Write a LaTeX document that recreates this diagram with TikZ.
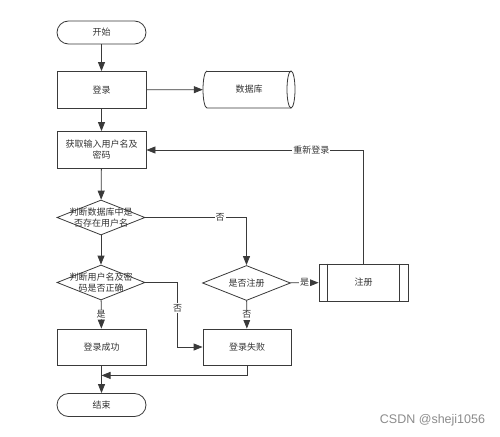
\documentclass[tikz,border=0pt]{standalone}
\usepackage{fontspec}
\newfontfamily\cjk{Noto Sans CJK SC}
\setsansfont{Liberation Sans}
\usetikzlibrary{shapes.geometric,arrows.meta,calc}
\definecolor{linec}{HTML}{3A3A3A}
\definecolor{txtc}{HTML}{333333}
\begin{document}
\begin{tikzpicture}[x=1pt,y=-1pt,
  every node/.style={text=txtc},
  ln/.style={draw=linec, line width=0.8pt},
  arr/.style={ln, -{Triangle[length=9pt,width=7pt]}},
  cn/.style={font=\cjk\fontsize{9}{11}\selectfont, align=center, inner sep=0pt},
  box/.style={ln, fill=white, minimum width=89pt, minimum height=37pt, cn},
  term/.style={box, rounded corners=11.5pt, minimum height=23pt},
  dec/.style={ln, diamond, fill=white, minimum width=88pt, minimum height=35pt, inner sep=0pt, aspect=2.5},
  lab/.style={cn, fill=white, inner sep=1pt}]
\useasboundingbox (0,0) rectangle (500,436);
\fill[white] (0,0) rectangle (500,436);

% nodes
\node[term] (start) at (101.5,32.5) {开始};
\node[box] (login) at (101.5,90) {登录};
\node[cn, minimum width=92pt, minimum height=37pt] (db) at (249,89.5) {数据库};
\draw[ln] (207,71) arc[start angle=90, end angle=270, x radius=4pt, y radius=18.5pt]
  -- (291,108);
\draw[ln] (207,71) -- (291,71);
\draw[ln] (291,89.5) ellipse[x radius=4pt, y radius=18.5pt];
\node[box] (get) at (101.5,150) {获取输入用户名及\\密码};
\node[dec] (d1) at (101,217.5) {};
\node[cn] at (d1) {判断数据库中是\\否存在用户名};
\node[dec] (d3) at (101,282.5) {};
\node[cn] at (d3) {判断用户名及密\\码是否正确};
\node[dec] (d2) at (246.5,283) {};
\node[cn] at (d2) {是否注册};
\node[box] (reg) at (363.5,282.5) {注册};
\draw[ln] ([xshift=9pt]reg.north west) -- ([xshift=9pt]reg.south west);
\draw[ln] ([xshift=-9pt]reg.north east) -- ([xshift=-9pt]reg.south east);
\node[box, minimum height=36pt] (ok) at (101.5,347) {登录成功};
\node[box, minimum height=36pt, minimum width=88pt] (fail) at (247,347) {登录失败};
\node[term] (end) at (101.5,405) {结束};
\node[font=\sffamily\fontsize{12.5}{14}\selectfont, text=black!45, inner sep=0pt] (wm) at (432.5,420) {CSDN @sheji1056};

% connectors
\draw[arr] (start) -- (login);
\draw[arr] (login) -- (db);
\draw[arr] (login) -- (get);
\draw[arr] (get) -- (d1);
\draw[arr] (d1) -- (d3);
\draw[arr] (d1.east) -| node[lab, pos=0.37]{否} (d2.north);
\draw[arr] (d2) -- node[lab]{是} (reg);
\draw[arr] (reg.north) |- node[lab, pos=0.62]{重新登录} (get.east);
\draw[arr] (d3) -- node[lab]{是} (ok);
\draw[arr] (d2) -- node[lab]{否} (fail);
\coordinate (c1) at ([xshift=-25pt]fail.west);
\draw[arr] (d3.east) -| node[lab, pos=0.70]{否} (c1) -- (fail.west);
\draw[arr] (ok) -- (end);
\coordinate (j1) at ($(ok.south)+(0,10)$);
\draw[arr] (fail.south) |- (j1);
\end{tikzpicture}
\end{document}
